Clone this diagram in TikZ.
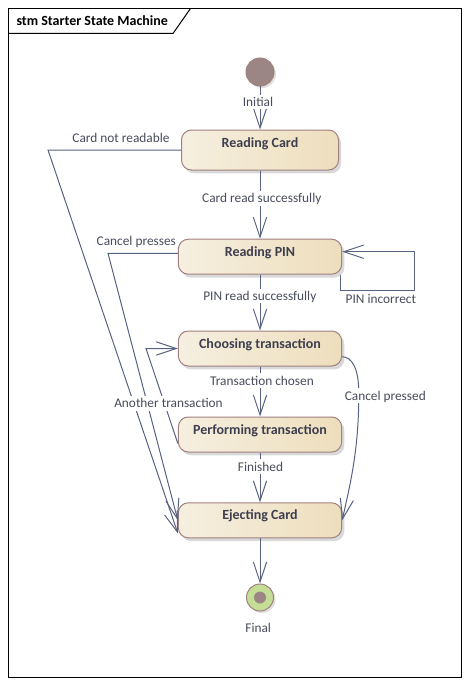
\documentclass[tikz,border=0pt]{standalone}
\usepackage{fontspec}
\setmainfont{Carlito}
\usetikzlibrary{arrows.meta,shadows,calc}
\definecolor{lineblue}{RGB}{88,98,130}
\definecolor{txtgray}{RGB}{72,76,92}
\definecolor{statetxt}{RGB}{62,62,78}
\definecolor{stateleft}{RGB}{246,239,224}
\definecolor{stateright}{RGB}{237,222,188}
\definecolor{stateborder}{RGB}{160,128,128}
\definecolor{pseudofill}{RGB}{156,133,133}
\definecolor{finalgreen}{RGB}{197,222,150}
\tikzset{every picture/.style={line width=0.75pt}}
\tikzset{
  state/.style={rectangle, rounded corners=7.5pt, draw=stateborder, left color=stateleft, right color=stateright,
    minimum width=122.5pt, minimum height=26.25pt, inner sep=0pt, text height=7pt, text depth=7.75pt,
    font=\fontsize{10.5}{12}\selectfont\bfseries, text=statetxt,
    drop shadow={shadow xshift=2pt,shadow yshift=-2.5pt,opacity=0.3}},
  trans/.style={draw=lineblue, -{Straight Barb[length=15pt,width=10pt]}},
  lbl/.style={fill=white, inner sep=1pt, text height=8pt, text depth=1pt, text=txtgray, font=\fontsize{10}{12}\selectfont},
}

\begin{document}
\begin{tikzpicture}[x=0.75pt,y=0.75pt,yscale=-1,xscale=1]
\useasboundingbox (0,0) rectangle (469,685);

%Frame
\draw (8.5,8.5) rectangle (461.5,677) ;
\draw (8.5,33.5) -- (173,33.5) -- (190.5,8.5) ;
% Text Node
\draw (15,20.7) node (title) [anchor=west, inner sep=0.75pt, font=\fontsize{10.5}{12}\selectfont\bfseries] {stm Starter State Machine};

%Initial
\draw (260,72) node (init) [circle, draw=stateborder, fill=pseudofill, minimum size=21pt, inner sep=0pt,
  drop shadow={shadow xshift=1.5pt,shadow yshift=-1.5pt,opacity=0.25}] {};
%Final
\draw (260,597.5) node (final) [circle, draw=stateborder, fill=finalgreen, minimum size=20.25pt, inner sep=0pt,
  drop shadow={shadow xshift=1.5pt,shadow yshift=-1.5pt,opacity=0.25}] {};
\draw (final) node (finaldot) [circle, fill=pseudofill, minimum size=9pt, inner sep=0pt] {};

%Rounded Rect
\draw (260,150) node (rcard) [state, minimum width=117.75pt, minimum height=30pt, text depth=11.5pt] {Reading Card};
%Rounded Rect
\draw (260,256.7) node (rpin) [state] {Reading PIN};
%Rounded Rect
\draw (260,348.5) node (choose) [state] {Choosing transaction};
%Rounded Rect
\draw (260,434.5) node (perform) [state] {Performing transaction};
%Rounded Rect
\draw (260,520.3) node (eject) [state] {Ejecting Card};

%Bends
\coordinate (cnrbend) at (48,150);
\coordinate (cpbend) at (108,253.3);
\coordinate (atbend) at (146,348.5);
\coordinate (pinloop) at (414,290);

%Straight Lines
\draw [trans] (init) -- (rcard) ;
\draw [trans] (rcard) -- (rpin) ;
\draw [trans] (rpin) -- (choose) ;
\draw [trans] (choose) -- (perform) ;
\draw [trans] (perform) -- (eject) ;
\draw [trans] (eject) -- (final) ;
\draw [trans] (rcard.west) -- (cnrbend) -- ($(eject.west)+(0,13)$) ;
\draw [trans] ($(rpin.west)+(0,-3.4)$) -- (cpbend) -- (eject.west) ;
\draw [trans] ($(perform.west)+(0,9)$) -- (atbend) -- (choose.west) ;
\draw [trans] ($(rpin.south east)+(-2,0)$) |- (pinloop) |- ($(rpin.east)+(0,-5)$) ;
%Curve Lines
\draw [trans] ($(choose.east)+(0,8.2)$) .. controls (352,357) and (358.5,368) .. (358.8,392)
  .. controls (359,450) and (350,485) .. (eject.east) ;

% Text Node
\draw (258,102) node (lblinit) [lbl] {Initial};
% Text Node
\draw (261.8,198.3) node (lblcrs) [lbl] {Card read successfully};
% Text Node
\draw (259.8,296) node (lblprs) [lbl] {PIN read successfully};
% Text Node
\draw (262,380.7) node (lbltc) [lbl] {Transaction chosen};
% Text Node
\draw (260.5,466.7) node (lblfin) [lbl] {Finished};
% Text Node
\draw (258.2,627.7) node (lblfinal) [lbl] {Final};
% Text Node
\draw (121,138.3) node (lblcnr) [lbl] {Card not readable};
% Text Node
\draw (136.3,240.7) node (lblcp) [lbl] {Cancel presses};
% Text Node
\draw (168.5,403.3) node (lblat) [lbl] {Another transaction};
% Text Node
\draw (380.8,299.3) node (lblpi) [lbl] {PIN incorrect};
% Text Node
\draw (385.3,395.7) node (lblcpd) [lbl] {Cancel pressed};

\end{tikzpicture}
\end{document}
